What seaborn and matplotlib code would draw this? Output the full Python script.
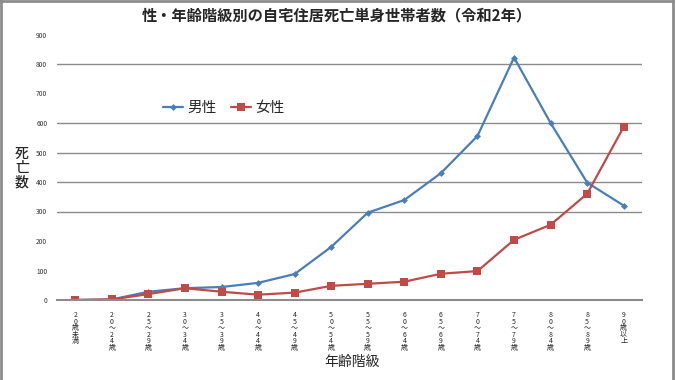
import matplotlib
matplotlib.use("Agg")
import matplotlib.pyplot as plt
import seaborn as sns
import pandas as pd
from matplotlib.lines import Line2D

categories = ["20歳未満", "20～24歳", "25～29歳", "30～34歳", "35～39歳", "40～44歳",
              "45～49歳", "50～54歳", "55～59歳", "60～64歳", "65～69歳", "70～74歳",
              "75～79歳", "80～84歳", "85～89歳", "90歳以上"]
male = [0, 2, 28, 40, 44, 58, 88, 180, 296, 339, 430, 556, 822, 600, 398, 320]
female = [0, 2, 20, 40, 28, 18, 25, 48, 55, 62, 89, 98, 204, 255, 360, 587]
series_names = ["男性", "女性"]
y_ticks = [0, 100, 200, 300, 400, 500, 600, 700, 800, 900]
grid_values = [300, 400, 500, 600, 800]

sns.set_theme(style="white")
plt.rcParams['font.family'] = ['Noto Sans CJK JP', 'DejaVu Sans']

df = pd.DataFrame({
    "age": list(range(len(categories))) * 2,
    "count": male + female,
    "sex": [series_names[0]] * len(male) + [series_names[1]] * len(female),
})

fig = plt.figure(figsize=(6.76, 3.80), dpi=100)
ax = fig.add_axes([57 / 676, (380 - 300) / 380, (642 - 57) / 676, (300 - 34.5) / 380])

palette = {"男性": "#4A7EBB", "女性": "#BE4B48"}
sns.lineplot(data=df, x="age", y="count", hue="sex", style="sex",
             markers={"男性": "D", "女性": "s"}, dashes=False, palette=palette,
             linewidth=1.6, markersize=4.5, markeredgewidth=0, ax=ax, legend=False)
for line in ax.lines:
    if matplotlib.colors.to_hex(line.get_color()) == palette["女性"].lower():
        line.set_markersize(6)
    else:
        line.set_markersize(3.5)

for gv in grid_values:
    ax.axhline(gv, color="#8c8c8c", lw=1.0, zorder=0)

ax.set_xlim(-0.5, len(categories) - 0.5)
ax.set_ylim(0, 900)
ax.set_yticks(y_ticks)
ax.set_yticklabels([str(v) for v in y_ticks], fontsize=4.8, color="#333333")
ax.tick_params(axis="y", length=0, pad=7)

ax.set_xticks(range(len(categories)))
vlabels = ["\n".join(list(c)) for c in categories]
ax.set_xticklabels(vlabels, fontsize=5.0, linespacing=0.75, rotation=0, va="top")
ax.tick_params(axis="x", which="major", length=0, pad=8)
ax.set_xticks([i - 0.5 for i in range(len(categories) + 1)], minor=True)
ax.tick_params(axis="x", which="minor", length=3.5, width=1, color="#8c8c8c", direction="out")

for s in ["top", "right", "left"]:
    ax.spines[s].set_visible(False)
ax.spines["bottom"].set_color("#8c8c8c")
ax.spines["bottom"].set_linewidth(1.5)

ax.set_xlabel("")
ax.set_ylabel("")

fig.text(337 / 676, 1 - 15 / 380, "性・年齢階級別の自宅住居死亡単身世帯者数（令和2年）",
         ha="center", va="center", fontsize=11, fontweight="bold")
fig.text(352 / 676, 1 - 362 / 380, "年齢階級", ha="center", va="center", fontsize=10)
fig.text(22 / 676, 1 - 168 / 380, "死\n亡\n数", ha="center", va="center", fontsize=10,
         linespacing=1.0, fontweight="medium")

handles = [Line2D([0], [0], color=palette["男性"], marker="D", markersize=3.5, lw=1.6, markeredgewidth=0),
           Line2D([0], [0], color=palette["女性"], marker="s", markersize=6, lw=1.6, markeredgewidth=0)]
fig.legend(handles, series_names, loc="center left", bbox_to_anchor=(163 / 676, 1 - 108 / 380),
           ncol=2, frameon=False, fontsize=10.5, handlelength=1.4, handletextpad=0.25,
           columnspacing=1.0, borderaxespad=0, borderpad=0)

border = "#8c8c8c"
fig.add_artist(Line2D([1 / 676, 1 / 676], [0, 1], transform=fig.transFigure, color=border, lw=2))
fig.add_artist(Line2D([0, 673 / 676], [1 - 1 / 380, 1 - 1 / 380], transform=fig.transFigure, color=border, lw=2))
fig.add_artist(Line2D([673 / 676, 673 / 676], [0, 1], transform=fig.transFigure, color=border, lw=2))

fig.savefig("out.png", dpi=100)
